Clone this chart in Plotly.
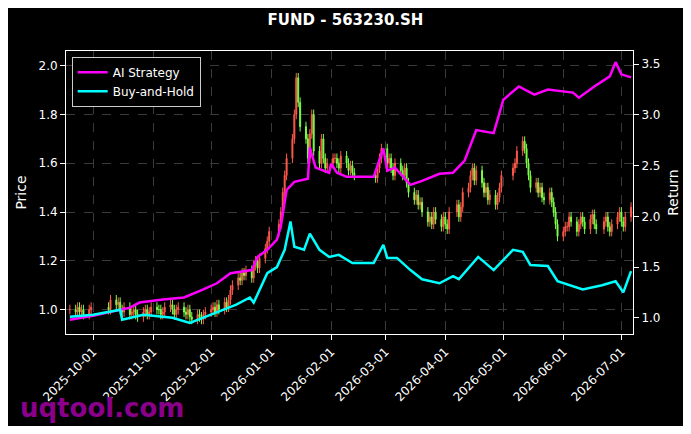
import pandas as pd
import plotly.graph_objects as go

# trading days (China market holidays removed)
holidays = pd.to_datetime([
    "2025-10-01", "2025-10-02", "2025-10-03", "2025-10-06", "2025-10-07", "2025-10-08",
    "2026-01-01", "2026-01-02",
    "2026-02-16", "2026-02-17", "2026-02-18", "2026-02-19", "2026-02-20", "2026-02-23",
    "2026-04-06", "2026-05-01", "2026-05-04", "2026-05-05", "2026-06-19",
])
days = pd.bdate_range("2025-09-19", "2026-07-06")
days = days[~days.isin(holidays)]

close = [
    # late Sep
    1.00, 0.99, 1.01, 0.99, 1.00, 0.98, 1.00, 1.01, 1.00,
    # Oct
    1.04, 1.02, 1.03, 1.00, 0.99, 1.01, 0.98, 0.99, 1.00, 0.98, 0.97, 0.99, 1.00, 0.98, 0.99, 1.01, 1.00,
    # Nov
    1.00, 0.98, 0.99, 1.01, 1.02, 1.00, 0.98, 1.00, 1.01, 0.99, 0.98, 1.00, 0.97, 0.96, 0.98, 0.97, 0.96, 0.98, 0.99, 1.00,
    # Dec
    1.01, 0.99, 1.02, 1.00, 1.03, 1.01, 1.04, 1.08, 1.10, 1.13, 1.12, 1.15, 1.14, 1.16, 1.13, 1.18, 1.20, 1.17,
    1.21, 1.25, 1.28, 1.32, 1.35,
    # Jan
    1.40, 1.48, 1.55, 1.62, 1.70, 1.80, 1.95, 1.85, 1.75, 1.70, 1.62, 1.72, 1.80, 1.65, 1.60, 1.70, 1.62, 1.58, 1.60, 1.62,
    # Feb
    1.62, 1.60, 1.58, 1.63, 1.60, 1.57, 1.59, 1.56, 1.55, 1.54, 1.58, 1.62, 1.66, 1.60,
    # Mar
    1.62, 1.58, 1.55, 1.60, 1.57, 1.55, 1.58, 1.52, 1.48, 1.45, 1.47, 1.43, 1.44, 1.40, 1.36, 1.38, 1.35, 1.40,
    1.37, 1.34, 1.38, 1.35,
    # Apr
    1.33, 1.40, 1.43, 1.38, 1.42, 1.48, 1.50, 1.55, 1.58, 1.53, 1.57, 1.52, 1.48, 1.50, 1.45, 1.47, 1.43, 1.46,
    1.50, 1.55, 1.58,
    # May
    1.60, 1.65, 1.69, 1.66, 1.60, 1.55, 1.50, 1.52, 1.48, 1.50, 1.46, 1.45, 1.48, 1.44, 1.40, 1.35, 1.30, 1.32, 1.34,
    # Jun
    1.34, 1.38, 1.36, 1.32, 1.35, 1.38, 1.36, 1.33, 1.37, 1.39, 1.35, 1.33, 1.36, 1.38, 1.34, 1.32, 1.35, 1.38, 1.40, 1.36, 1.34,
    # Jul
    1.38, 1.42, 1.33, 1.29,
]
n = min(len(days), len(close))
days = days[:n]
close = close[:n]
opens = [close[0]] + close[:-1]
wick = 0.02
high = [max(o, c) + wick for o, c in zip(opens, close)]
low = [min(o, c) - wick for o, c in zip(opens, close)]

ai_dates = ["2025-09-19", "2025-10-01", "2025-10-20", "2025-10-25", "2025-11-06", "2025-11-17", "2025-11-27",
            "2025-12-04", "2025-12-11", "2025-12-22", "2025-12-25", "2025-12-30", "2026-01-04", "2026-01-06",
            "2026-01-09", "2026-01-13", "2026-01-20", "2026-01-21", "2026-01-24", "2026-01-31", "2026-02-01",
            "2026-02-04", "2026-02-09", "2026-02-23", "2026-02-28", "2026-03-02", "2026-03-06", "2026-03-14",
            "2026-03-20", "2026-03-29", "2026-04-05", "2026-04-11", "2026-04-17", "2026-04-26", "2026-05-01",
            "2026-05-09", "2026-05-17", "2026-05-24", "2026-06-06", "2026-06-09", "2026-06-17", "2026-06-25",
            "2026-06-28", "2026-07-01", "2026-07-06"]
ai_ret = [0.98, 1.02, 1.10, 1.15, 1.18, 1.20, 1.28,
          1.34, 1.44, 1.47, 1.60, 1.67, 1.77, 1.90,
          2.26, 2.34, 2.37, 2.68, 2.48, 2.43, 2.52,
          2.43, 2.39, 2.39, 2.67, 2.45, 2.48, 2.31,
          2.35, 2.42, 2.43, 2.55, 2.85, 2.82, 3.15,
          3.28, 3.20, 3.25, 3.22, 3.17, 3.28, 3.38,
          3.52, 3.40, 3.37]

bh_dates = ["2025-09-19", "2025-10-01", "2025-10-15", "2025-10-16", "2025-10-27", "2025-11-11", "2025-11-20",
            "2025-12-01", "2025-12-14", "2025-12-21", "2025-12-23", "2025-12-30", "2026-01-04", "2026-01-08",
            "2026-01-11", "2026-01-13", "2026-01-18", "2026-01-21", "2026-01-26", "2026-01-31", "2026-02-05",
            "2026-02-12", "2026-02-23", "2026-02-28", "2026-03-02", "2026-03-07", "2026-03-14", "2026-03-20",
            "2026-03-29", "2026-04-05", "2026-04-08", "2026-04-18", "2026-04-26", "2026-05-06", "2026-05-11",
            "2026-05-15", "2026-05-24", "2026-05-29", "2026-06-06", "2026-06-11", "2026-06-21", "2026-06-28",
            "2026-07-02", "2026-07-06"]
bh_ret = [1.01, 1.03, 1.08, 0.98, 1.03, 1.00, 0.95,
          1.03, 1.13, 1.20, 1.15, 1.44, 1.50, 1.67,
          1.95, 1.70, 1.67, 1.83, 1.67, 1.60, 1.62,
          1.54, 1.54, 1.72, 1.59, 1.59, 1.47, 1.38,
          1.34, 1.41, 1.38, 1.60, 1.47, 1.67, 1.65,
          1.52, 1.51, 1.36, 1.31, 1.28, 1.32, 1.36,
          1.25, 1.46]

fig = go.Figure()

fig.add_trace(go.Candlestick(
    x=days, open=opens, high=high, low=low, close=close,
    increasing=dict(line=dict(color="#ff5a4a", width=1), fillcolor="#ff5a4a"),
    decreasing=dict(line=dict(color="#7cff4a", width=1), fillcolor="#7cff4a"),
    whiskerwidth=0, showlegend=False, yaxis="y",
))
fig.add_trace(go.Scatter(
    x=ai_dates, y=ai_ret, name="AI Strategy", yaxis="y2",
    mode="lines", line=dict(color="#ff00ff", width=2.5),
))
fig.add_trace(go.Scatter(
    x=bh_dates, y=bh_ret, name="Buy-and-Hold", yaxis="y2",
    mode="lines", line=dict(color="#00ffff", width=2.5),
))

grid = dict(showgrid=True, gridcolor="#3a3a3a", griddash="dash", gridwidth=0.6)
fig.update_layout(
    width=675, height=418,
    paper_bgcolor="black", plot_bgcolor="black",
    font=dict(family="DejaVu Sans", color="white", size=12),
    margin=dict(l=58, r=50, t=43, b=92),
    title=dict(text="<b>FUND - 563230.SH</b>", x=0.5, xanchor="center", y=0.985, font=dict(size=15)),
    xaxis=dict(
        type="date", range=["2025-09-17", "2026-07-07"], rangeslider=dict(visible=False),
        tickformat="%Y-%m-%d", dtick="M1", tick0="2025-10-01", tickangle=-45,
        ticks="outside", tickcolor="white", showline=True, linecolor="white", mirror=True,
        automargin=False, **grid,
    ),
    yaxis=dict(
        title=dict(text="Price", standoff=8), range=[0.90, 2.06], dtick=0.2, tickformat=".1f",
        ticks="outside", tickcolor="white", showline=True, linecolor="white", mirror=True,
        zeroline=False, automargin=False, **grid,
    ),
    yaxis2=dict(
        title=dict(text="Return", standoff=8), range=[0.84, 3.63], dtick=0.5, tickformat=".1f",
        overlaying="y", side="right", ticks="outside", tickcolor="white",
        showgrid=False, zeroline=False, automargin=False,
    ),
    legend=dict(
        x=0.01, y=0.98, xanchor="left", yanchor="top",
        bgcolor="black", bordercolor="#ccc", borderwidth=1, font=dict(size=12),
    ),
    annotations=[dict(
        text="<b>uqtool.com</b>", xref="paper", yref="paper", x=-0.085, y=-0.263,
        xanchor="left", yanchor="middle", showarrow=False,
        font=dict(size=26, color="#8b008b"),
    )],
)

fig.write_html("out.html")
